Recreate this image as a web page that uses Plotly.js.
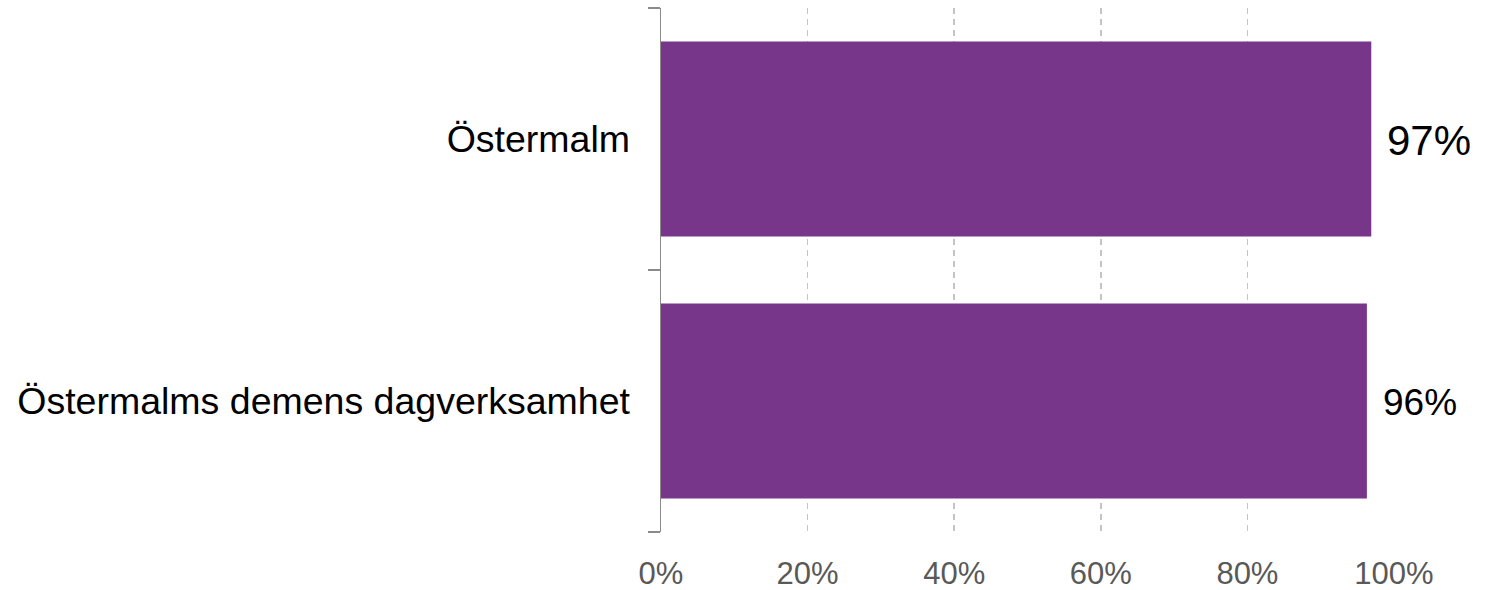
<!DOCTYPE html>
<html>
<head>
<meta charset="utf-8">
<script src="https://cdn.plot.ly/plotly-3.0.1.min.js"></script>
<style>html,body{margin:0;padding:0;background:#fff;}#chart{width:1494px;height:590px;}</style>
</head>
<body>
<div id="chart"></div>
<script>
const categories = ["Östermalm", "Östermalms demens dagverksamhet"];
const values = [0.969, 0.963];
const valueLabels = ["97%", "96%"];
const labelSizes = [42, 37];
const tickVals = [0, 0.2, 0.4, 0.6, 0.8, 1.0];
const tickText = ["0%", "20%", "40%", "60%", "80%", "100%"];

const trace = {
  type: "bar",
  orientation: "h",
  x: values,
  y: categories,
  marker: {color: "#77368A"},
  hoverinfo: "none"
};

const annotations = categories.map((c, i) => ({
  x: values[i], y: c, xref: "x", yref: "y",
  text: valueLabels[i], showarrow: false,
  xanchor: "left", yanchor: "middle", xshift: 14, yshift: -1,
  font: {family: "Liberation Sans, Arial, sans-serif", size: labelSizes[i], color: "#000"}
}));

const layout = {
  width: 1494, height: 590,
  margin: {l: 661, r: 100, t: 8, b: 58},
  paper_bgcolor: "#fff", plot_bgcolor: "#fff",
  showlegend: false,
  bargap: 0.255,
  font: {family: "Liberation Sans, Arial, sans-serif"},
  xaxis: {
    range: [0, 1.0],
    tickvals: tickVals, ticktext: tickText,
    showgrid: true, gridcolor: "#c4c4c4", gridwidth: 1.5, griddash: "6px,5px",
    zeroline: false, showline: false, ticks: "",
    tickfont: {size: 31, color: "#595959"},
    ticklabelstandoff: 20,
    fixedrange: true
  },
  yaxis: {
    type: "category",
    categoryorder: "array", categoryarray: categories.slice().reverse(),
    showline: true, linecolor: "#8a8a8a", linewidth: 1.5,
    ticks: "outside", tickson: "boundaries", ticklen: 12, tickcolor: "#8a8a8a", tickwidth: 1.5,
    showgrid: false, zeroline: false,
    tickfont: {size: 37.5, color: "#000"},
    ticklabelstandoff: 22,
    fixedrange: true
  },
  annotations: annotations
};

Plotly.newPlot("chart", [trace], layout, {displayModeBar: false, staticPlot: true});
</script>
</body>
</html>
